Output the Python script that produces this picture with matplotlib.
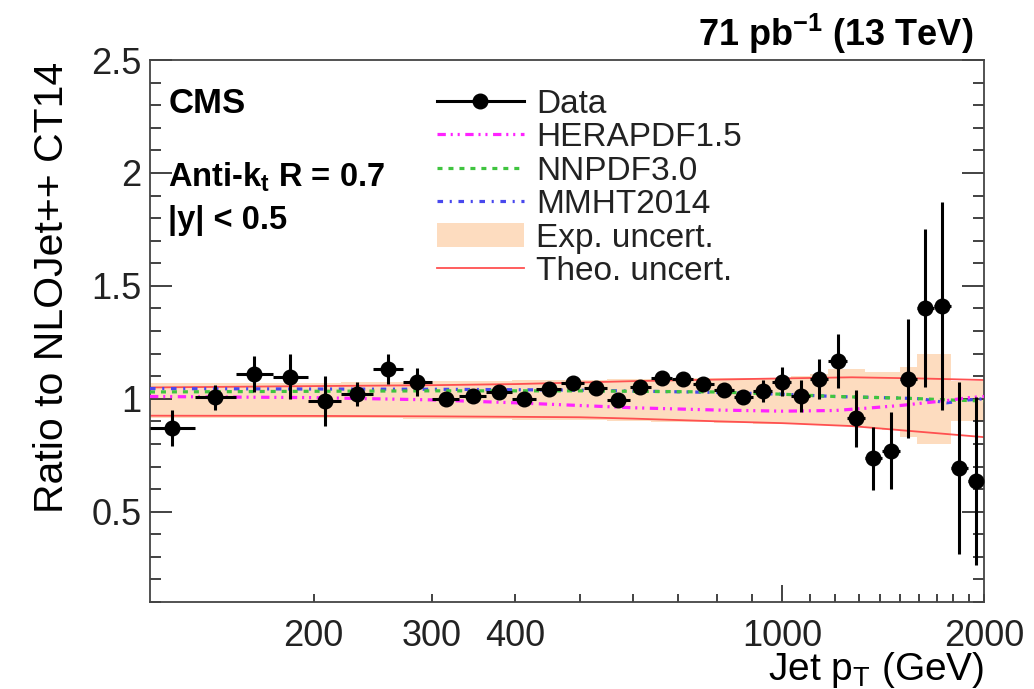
import numpy as np
import matplotlib
matplotlib.use("Agg")
import matplotlib.pyplot as plt
from matplotlib.lines import Line2D
from matplotlib.patches import Patch
from matplotlib.ticker import FixedLocator, FuncFormatter

plt.rcParams['font.family'] = ['Liberation Sans', 'DejaVu Sans']
plt.rcParams['mathtext.fontset'] = 'custom'
plt.rcParams['mathtext.rm'] = 'Liberation Sans'
plt.rcParams['mathtext.bf'] = 'Liberation Sans:bold'
plt.rcParams['mathtext.it'] = 'Liberation Sans:italic'
plt.rcParams['lines.scale_dashes'] = False

# ---------------- data ----------------
bin_edges = [114, 133, 153, 174, 196, 220, 245, 272, 300, 330, 362, 395, 430, 468,
             507, 548, 592, 638, 686, 737, 790, 846, 905, 967, 1032, 1101, 1172,
             1248, 1327, 1410, 1497, 1588, 1684, 1784, 1890, 2000]

data_ratio = [0.869, 1.006, 1.109, 1.097, 0.990, 1.021, 1.131, 1.072, 0.997, 1.013,
              1.031, 1.000, 1.041, 1.069, 1.046, 0.996, 1.054, 1.094, 1.088, 1.066,
              1.037, 1.008, 1.033, 1.076, 1.013, 1.087, 1.168, 0.913, 0.736, 0.770,
              1.087, 1.403, 1.412, 0.692, 0.636]
data_err_up = [0.080, 0.055, 0.080, 0.100, 0.110, 0.055, 0.065, 0.065, 0.020, 0.020,
               0.020, 0.020, 0.020, 0.020, 0.020, 0.020, 0.020, 0.025, 0.025, 0.025,
               0.025, 0.025, 0.048, 0.065, 0.070, 0.088, 0.120, 0.125, 0.140, 0.170,
               0.265, 0.350, 0.460, 0.380, 0.370]
data_err_dn = [0.080, 0.055, 0.080, 0.100, 0.110, 0.055, 0.065, 0.060, 0.020, 0.020,
               0.020, 0.020, 0.020, 0.020, 0.020, 0.020, 0.020, 0.025, 0.025, 0.025,
               0.025, 0.025, 0.048, 0.065, 0.070, 0.088, 0.120, 0.125, 0.140, 0.170,
               0.260, 0.350, 0.460, 0.380, 0.370]

# experimental uncertainty band (per bin)
exp_up = [1.070, 1.070, 1.070, 1.070, 1.070, 1.072, 1.074, 1.076, 1.078, 1.080,
          1.080, 1.082, 1.083, 1.084, 1.085, 1.086, 1.087, 1.088, 1.089, 1.090,
          1.090, 1.090, 1.090, 1.092, 1.100, 1.110, 1.130, 1.130, 1.120, 1.120,
          1.140, 1.200, 1.200, 1.080, 1.080]
exp_dn = [0.915, 0.915, 0.915, 0.915, 0.915, 0.914, 0.913, 0.912, 0.911, 0.910,
          0.909, 0.908, 0.907, 0.906, 0.905, 0.903, 0.901, 0.899, 0.897, 0.895,
          0.893, 0.891, 0.890, 0.890, 0.890, 0.885, 0.880, 0.880, 0.870, 0.860,
          0.830, 0.800, 0.800, 0.900, 0.900]

# theory uncertainty (red lines)
theo_pt = [114, 200, 300, 400, 500, 600, 800, 1000, 1270, 1600, 2000]
theo_up = [1.050, 1.056, 1.060, 1.065, 1.072, 1.078, 1.085, 1.090, 1.095, 1.090, 1.083]
theo_dn = [0.925, 0.924, 0.922, 0.920, 0.918, 0.912, 0.900, 0.892, 0.879, 0.854, 0.830]

# PDF ratios to CT14
pdf_pt = [114, 200, 300, 400, 500, 600, 800, 1000, 1200, 1360, 1500, 1610, 1760, 1900, 2000]
hera = [1.010, 1.005, 0.995, 0.982, 0.970, 0.960, 0.950, 0.945, 0.948, 0.960, 0.970, 0.980, 0.992, 1.005, 1.010]
nnpdf = [1.030, 1.033, 1.035, 1.035, 1.035, 1.033, 1.030, 1.020, 1.010, 1.006, 1.003, 1.000, 0.995, 0.992, 0.990]
mmht = [1.045, 1.043, 1.042, 1.040, 1.038, 1.034, 1.028, 1.020, 1.010, 1.006, 1.003, 1.000, 0.982, 0.995, 1.000]

x_major = [1000]
x_minor = [200, 300, 400, 500, 600, 700, 800, 900, 1100, 1200, 1300, 1400, 1500,
           1600, 1700, 1800, 1900, 2000]
x_labelled = [200, 300, 400, 1000, 2000]

# ---------------- plot ----------------
fig = plt.figure(figsize=(10.34, 6.89), dpi=100)
ax = fig.add_axes([150/1034, 87/689, 834/1034, 542/689])

edges = np.array(bin_edges, dtype=float)
centers = np.sqrt(edges[:-1] * edges[1:])
xerr = [centers - edges[:-1], edges[1:] - centers]

band_color = '#fddcbf'
ax.fill_between(edges, exp_dn + [exp_dn[-1]], exp_up + [exp_up[-1]], step='post',
                color=band_color, lw=0, zorder=1)

red = '#ff5050'
ax.plot(theo_pt, theo_up, color=red, lw=1.3, zorder=2)
ax.plot(theo_pt, theo_dn, color=red, lw=1.3, zorder=2)

mag_style = dict(color='#ff22ff', lw=2.3, dashes=(6, 3.5, 1.5, 3.5, 1.5, 4))
grn_style = dict(color='#3fc43f', lw=2.3, dashes=(3.6, 4.3))
blu_style = dict(color='#4848ee', lw=2.3, dashes=(4, 4.8, 1.5, 4.8))
ax.plot(pdf_pt, mmht, zorder=3, **blu_style)
ax.plot(pdf_pt, nnpdf, zorder=3, **grn_style)
ax.plot(pdf_pt, hera, zorder=3, **mag_style)

ax.errorbar(centers, data_ratio, yerr=[data_err_dn, data_err_up], xerr=xerr,
            fmt='o', color='black', ms=10.5, lw=2.2, capsize=0, zorder=5)

ax.set_xscale('log')
ax.set_xlim(114, 2000)
ax.set_ylim(0.1, 2.5)

ax.xaxis.set_major_locator(FixedLocator(x_major))
ax.xaxis.set_minor_locator(FixedLocator(x_minor))
fmt = FuncFormatter(lambda v, p: f"{int(round(v))}" if int(round(v)) in x_labelled else "")
ax.xaxis.set_major_formatter(fmt)
ax.xaxis.set_minor_formatter(fmt)
ax.set_yticks([0.5, 1.0, 1.5, 2.0, 2.5])
ax.set_yticklabels(['0.5', '1', '1.5', '2', '2.5'])
ax.yaxis.set_minor_locator(FixedLocator(np.round(np.arange(0.1, 2.51, 0.1), 2)))

ax.tick_params(axis='both', which='both', direction='in', labelsize=26, colors='#222222')
ax.tick_params(axis='y', which='major', length=16, width=1.2, right=True, pad=6)
ax.tick_params(axis='y', which='minor', length=8, width=1.2, right=True)
ax.tick_params(axis='x', which='major', length=12, width=1.2, pad=12)
ax.tick_params(axis='x', which='minor', length=6, width=1.2, pad=12)
for s in ax.spines.values():
    s.set_color('#444444')
    s.set_linewidth(1.3)

ax.set_xlabel(r'Jet p$_\mathregular{T}$ (GeV)', fontsize=28, ha='right', va='baseline')
ax.xaxis.set_label_coords(1.001, -(680 - 602) / 542)
ax.set_ylabel('Ratio to NLOJet++ CT14', fontsize=29.5, ha='right', va='baseline')
ax.yaxis.set_label_coords((63 - 150) / 834, (602 - 62) / 542)

ax.text(0.022, 0.902, 'CMS', transform=ax.transAxes, fontsize=25, fontweight='bold',
        ha='left', va='baseline')
ax.text(0.022, 0.767, r'Anti-k$_\mathbf{t}$ R = 0.7', transform=ax.transAxes,
        fontsize=23.5, fontweight='bold', ha='left', va='baseline')
ax.text(0.022, 0.688, '|y| < 0.5', transform=ax.transAxes, fontsize=23.5,
        fontweight='bold', ha='left', va='baseline')
ax.text(0.987, 1.026, r'71 pb$^\mathbf{-1}$ (13 TeV)', transform=ax.transAxes,
        fontsize=26, fontweight='bold', ha='right', va='baseline')

handles = [
    Line2D([], [], color='black', marker='o', ms=10.5, lw=2.2),
    Line2D([], [], **mag_style),
    Line2D([], [], **grn_style),
    Line2D([], [], **blu_style),
    Patch(facecolor=band_color, edgecolor='none'),
    Line2D([], [], color=red, lw=1.3),
]
labels = ['Data', 'HERAPDF1.5', 'NNPDF3.0', 'MMHT2014', 'Exp. uncert.', 'Theo. uncert.']
leg = ax.legend(handles, labels, loc='upper left', bbox_to_anchor=(0.344, 0.947),
                frameon=False, fontsize=24, handlelength=2.6, handletextpad=0.38,
                labelspacing=0.075, borderpad=0, borderaxespad=0, handleheight=0.75)
for t in leg.get_texts():
    t.set_color('#222222')

fig.savefig('out.png', dpi=100)
